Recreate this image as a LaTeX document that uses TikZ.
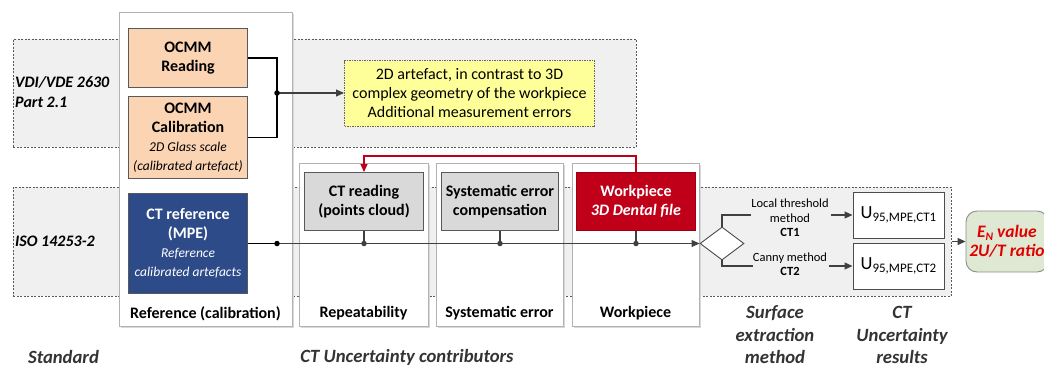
\documentclass[tikz,border=0pt]{standalone}
\usepackage{fontspec}
\setmainfont{Carlito}
\usetikzlibrary{shapes.geometric,arrows.meta,shadows}
\definecolor{bandfill}{HTML}{F0F0F0}
\definecolor{bandline}{HTML}{595959}
\definecolor{peach}{HTML}{FBD4B4}
\definecolor{ctblue}{HTML}{2E4B89}
\definecolor{boxgrey}{HTML}{D9D9D9}
\definecolor{wpred}{HTML}{C00018}
\definecolor{yel}{HTML}{FFFF99}
\definecolor{engreen}{HTML}{DFE8D3}
\definecolor{redtxt}{HTML}{E00000}
\definecolor{linegrey}{HTML}{404040}
\newcommand{\fsz}[2]{\fontsize{#1}{#2}\selectfont}
\tikzset{
  band/.style={draw=bandline, dash pattern=on 2pt off 1.5pt, fill=bandfill, line width=0.8pt, anchor=north west, inner sep=0},
  colbox/.style={draw=black!30, fill=white, line width=0.8pt, anchor=north west, inner sep=0,
    drop shadow={shadow xshift=1.5pt, shadow yshift=-1.5pt, fill=black!15, opacity=1}},
  inbox/.style={draw=black!65, line width=1pt, anchor=north west, inner sep=0, align=center, font=\fsz{16}{19}},
  boldtxt/.style={font=\fsz{16}{19}\bfseries},
  collab/.style={font=\fsz{16}{19}\bfseries},
  bandlab/.style={font=\fsz{16}{19.5}\bfseries\itshape, align=left, anchor=west, inner sep=0},
  captxt/.style={font=\fsz{18.7}{22.5}\bfseries\itshape, text=black!80, align=center, inner sep=0},
  small/.style={font=\fsz{12.5}{14.5}, align=center, inner sep=0},
  conn/.style={draw=linegrey, line width=1.1pt},
  bconn/.style={draw=black, line width=1.1pt},
  rconn/.style={draw=wpred, line width=1.1pt},
  tip/.style={-{Triangle[length=8pt,width=7pt]}},
  dot/.style={circle, fill=linegrey, inner sep=0, minimum size=5.5pt},
  ubox/.style={draw=black!70, fill=white, line width=1pt, minimum width=91, minimum height=46, inner sep=0},
}
\begin{document}
\begin{tikzpicture}[x=1pt,y=-1pt]
\useasboundingbox (0,0) rectangle (1044,368);
% bands
\node[band, minimum width=623, minimum height=108] (vdi) at (13,39) {};
\node[band, minimum width=938, minimum height=109] (iso) at (13,187) {};
\node[bandlab] (vdilab) at (15,92) {VDI/VDE 2630\\Part 2.1};
\node[bandlab] (isolab) at (15,241) {ISO 14253-2};
% columns
\node[colbox, minimum width=173, minimum height=314] (refcol) at (119,12) {};
\node[colbox, minimum width=129, minimum height=163] (repcol) at (299,163) {};
\node[colbox, minimum width=127, minimum height=163] (syscol) at (436,163) {};
\node[colbox, minimum width=127, minimum height=163] (wpcol) at (572,163) {};
\node[collab] (reflab) at (205.5,314) {Reference (calibration)};
\node[collab] (replab) at (363.5,313) {Repeatability};
\node[collab] (syslab) at (499.5,313) {Systematic error};
\node[collab] (wplab) at (635.5,313) {Workpiece};
% inner boxes
\node[inbox, fill=peach, minimum width=119, minimum height=59, boldtxt] (reading) at (128,28) {OCMM\\Reading};
\node[inbox, fill=peach, minimum width=119, minimum height=82] (calib) at (128,96)
  {\textbf{OCMM}\\\textbf{Calibration}\\{\fsz{13.5}{18}\itshape 2D Glass scale}\\{\fsz{13.5}{18}\itshape (calibrated artefact)}};
\node[inbox, fill=ctblue, text=white, minimum width=119, minimum height=100] (ctref) at (128,193)
  {\textbf{CT reference}\\\textbf{(MPE)}\\{\fsz{13.5}{18}\itshape Reference}\\{\fsz{13.5}{18}\itshape calibrated artefacts}};
\node[inbox, fill=boxgrey, minimum width=119, minimum height=58, boldtxt] (ctread) at (304,172) {CT reading\\(points cloud)};
\node[inbox, fill=boxgrey, minimum width=117, minimum height=58, boldtxt] (sysc) at (441,172) {Systematic error\\compensation};
\node[inbox, draw=wpred!80!black, fill=wpred, text=white, minimum width=119, minimum height=58] (wp) at (576,172)
  {\textbf{Workpiece}\\\textbf{\itshape 3D Dental file}};
\node[inbox, draw=black!60, dash pattern=on 1.5pt off 1pt, fill=yel, minimum width=250, minimum height=66] (yellow) at (344,60)
  {2D artefact, in contrast to 3D\\complex geometry of the workpiece\\Additional measurement errors};
% bracket and arrow to yellow box
\coordinate (jn) at (277,93);
\draw[bconn] (reading.east) -| (jn) |- (calib.east);
\draw[conn, tip] (jn) -- (jn -| yellow.west);
\node[dot, fill=black] (jdot) at (jn) {};
% diamond and right part
\node[diamond, draw=black!70, fill=white, line width=0.9pt, minimum width=44, minimum height=33, inner sep=0] (dia) at (722,243.5) {};
\node[small] (lab1) at (790,218) {Local threshold\\method\\\textbf{CT1}};
\node[small] (lab2) at (790,264) {Canny method\\\textbf{CT2}};
\node[ubox] (u1) at (898.5,215) {{\fsz{18.5}{20}U}\raisebox{-3.5pt}{\fsz{13}{14}95,MPE,CT1}};
\node[ubox] (u2) at (898.5,266) {{\fsz{18.5}{20}U}\raisebox{-3.5pt}{\fsz{13}{14}95,MPE,CT2}};
\node[draw=black!45, fill=engreen, rounded corners=11pt, line width=0.9pt, minimum width=82, minimum height=61, inner sep=0, align=center,
  text=redtxt, font=\fsz{17.5}{18.5}\bfseries\itshape] (en) at (1007,241.5)
  {E\raisebox{-2.5pt}{\fsz{11.5}{12}N} value\\2U/T ratio};
% main line
\coordinate (d0) at (277,243.5);
\draw[bconn] (ctref.east |- d0) -- (d0);
\draw[conn, tip] (d0) -- (dia.west);
\coordinate (d1) at (ctread.south |- d0);
\coordinate (d2) at (sysc.south |- d0);
\coordinate (d3) at (wp.south |- d0);
\draw[conn] (ctread.south) -- (d1);
\draw[conn] (sysc.south) -- (d2);
\draw[conn] (wp.south) -- (d3);
\node[dot, fill=black] (dot0) at (d0) {};
\node[dot] (dot1) at (d1) {};
\node[dot] (dot2) at (d2) {};
\node[dot] (dot3) at (d3) {};
% red feedback
\draw[rconn, tip] (wp.north) -- ++(0,-16) -| (ctread.north);
% branches
\draw[conn] (dia.north) |- (lab1.west |- u1.west);
\draw[conn] (dia.south) |- (lab2.west |- u2.west);
\draw[conn, tip] ([xshift=2pt]lab1.east |- u1.west) -- (u1.west);
\draw[conn, tip] ([xshift=2pt]lab2.east |- u2.west) -- (u2.west);
\draw[conn, tip] (iso.east |- en.west) -- (en.west);
% captions
\node[captxt] (capstd) at (63.5,357) {Standard};
\node[captxt] (capct) at (407,357) {CT Uncertainty contributors};
\node[captxt] (capsurf) at (775,335) {Surface\\extraction\\method};
\node[captxt] (capres) at (902,335) {CT\\Uncertainty\\results};
\end{tikzpicture}
\end{document}
